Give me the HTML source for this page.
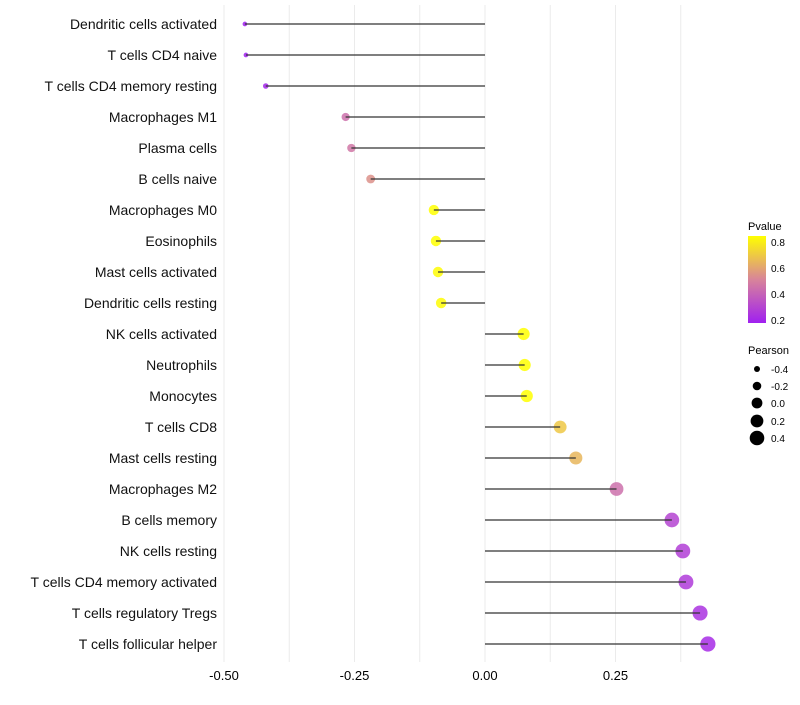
<!DOCTYPE html>
<html><head><meta charset="utf-8"><style>
body{margin:0;background:#fff;font-family:"Liberation Sans",sans-serif}
</style></head><body>
<svg id="chart" width="800" height="700" xmlns="http://www.w3.org/2000/svg">
<defs><linearGradient id="pg" x1="0" y1="1" x2="0" y2="0">
<stop offset="0" stop-color="#a020f0"/><stop offset="0.5" stop-color="#d8849a"/><stop offset="1" stop-color="#ffff00"/>
</linearGradient></defs>
<g id="grid"></g><g id="points"></g><g id="marks"></g><g id="labels"></g>
<g font-size="10" fill="#000">
<text x="748" y="230" font-size="11">Pvalue</text>
<rect x="748" y="236" width="18" height="87" fill="url(#pg)"/>
<text x="771" y="246">0.8</text>
<text x="771" y="272">0.6</text>
<text x="771" y="298">0.4</text>
<text x="771" y="324">0.2</text>
</g>
<g font-size="10">
<text x="748" y="354" font-size="11">Pearson</text>
<circle cx="757" cy="369" r="3"/><text x="771" y="373">-0.4</text>
<circle cx="757" cy="386" r="4.3"/><text x="771" y="390">-0.2</text>
<circle cx="757" cy="403" r="5.4"/><text x="771" y="407">0.0</text>
<circle cx="757" cy="421" r="6.4"/><text x="771" y="425">0.2</text>
<circle cx="757" cy="438" r="7.3"/><text x="771" y="442">0.4</text>
</g>
</svg>
<script>
const categories=["Dendritic cells activated","T cells CD4 naive","T cells CD4 memory resting","Macrophages M1","Plasma cells","B cells naive","Macrophages M0","Eosinophils","Mast cells activated","Dendritic cells resting","NK cells activated","Neutrophils","Monocytes","T cells CD8","Mast cells resting","Macrophages M2","B cells memory","NK cells resting","T cells CD4 memory activated","T cells regulatory  Tregs ","T cells follicular helper"];
const pearson=[-0.46,-0.458,-0.42,-0.267,-0.256,-0.219,-0.098,-0.094,-0.09,-0.084,0.074,0.076,0.08,0.144,0.174,0.252,0.358,0.379,0.385,0.412,0.427];
const pvalue=[0.18,0.18,0.2,0.45,0.47,0.55,0.85,0.85,0.84,0.84,0.86,0.86,0.85,0.7,0.65,0.45,0.3,0.28,0.27,0.24,0.22];
const xTicks=[-0.5,-0.25,0,0.25];
const xTickLabels=["-0.50","-0.25","0.00","0.25"];
const NS="http://www.w3.org/2000/svg";
const x=v=>485+v*522;
const y=i=>24+i*31;
const rad=v=>Math.sqrt(Math.max(32.5+59*v,3));
function col(p){const t=Math.max(0,Math.min(1,(p-0.18)/(0.85-0.18)));
 const a=[160,32,240],m=[216,132,154],b=[255,255,0];let c;
 if(t<0.5){const u=t/0.5;c=a.map((v,k)=>v+(m[k]-v)*u);}else{const u=(t-0.5)/0.5;c=m.map((v,k)=>v+(b[k]-v)*u);}
 return `rgb(${c.map(Math.round).join(",")})`;}
function mk(tag,attrs,parent){const e=document.createElementNS(NS,tag);for(const k in attrs)e.setAttribute(k,attrs[k]);parent.appendChild(e);return e;}
const grid=document.getElementById('grid'),marks=document.getElementById('marks'),labels=document.getElementById('labels'),points=document.getElementById('points');
for(let v=-0.5;v<=0.38;v+=0.125){const g=mk('line',{x1:x(v),x2:x(v),y1:5,y2:662,stroke:'#ebebeb','stroke-width':1},grid);

}
xTicks.forEach((v,i)=>{const t=mk('text',{x:x(v),y:680,'font-size':13,'text-anchor':'middle',fill:'#000'},labels);t.textContent=xTickLabels[i];

});
categories.forEach((c,i)=>{
 const t=mk('text',{x:217,y:y(i)+5,'font-size':14,'text-anchor':'end',fill:'#111'},labels);t.textContent=c;
 
 
 const p=mk('circle',{cx:x(pearson[i]),cy:y(i),r:rad(pearson[i]),fill:col(pvalue[i]),'fill-opacity':0.85},points);
 
 
 const l=mk('line',{x1:x(0),x2:x(pearson[i]),y1:y(i),y2:y(i),stroke:'#333','stroke-width':1.3},marks);
 
 
});
</script>
</body></html>
